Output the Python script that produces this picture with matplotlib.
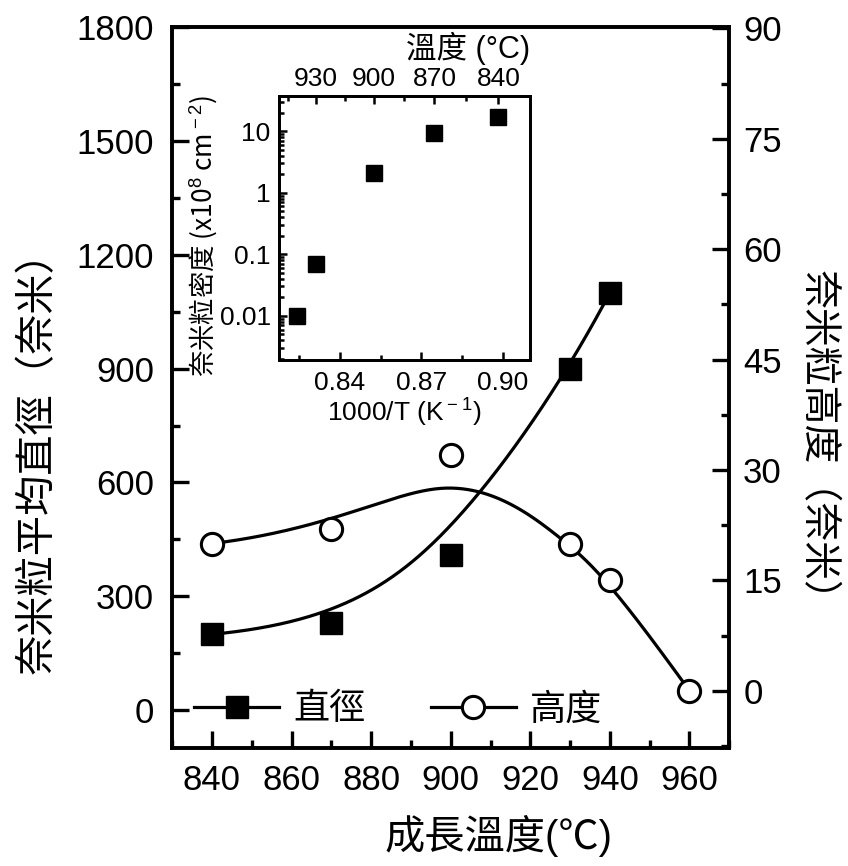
import numpy as np
import matplotlib
matplotlib.use("Agg")
import matplotlib.pyplot as plt
from matplotlib.ticker import MultipleLocator, FixedLocator, NullFormatter, LogLocator
from matplotlib.lines import Line2D

plt.rcParams['font.family'] = ['Liberation Sans', 'Noto Sans CJK TC']
plt.rcParams['mathtext.fontset'] = 'custom'
plt.rcParams['mathtext.rm'] = 'Liberation Sans'

# ---------------- data ----------------
temp_d = [840, 870, 900, 930, 940]
diameter = [200, 230, 410, 900, 1100]
temp_h = [840, 870, 900, 930, 940, 960]
height = [20, 22, 32, 20, 15, 0]

inset_temp = [940, 930, 900, 870, 840]
inset_density = [0.01, 0.07, 2.1, 9.3, 17]
top_tick_temps = [930, 900, 870, 840]
top_minor_temps = [945, 915, 885, 855, 825]

xticks = [840, 860, 880, 900, 920, 940, 960]
yticks_left = [0, 300, 600, 900, 1200, 1500, 1800]
yticks_right = [0, 15, 30, 45, 60, 75, 90]


def bspline(px, py, k=3, n=400):
    px = np.asarray(px, float); py = np.asarray(py, float)
    m = len(px)
    k = min(k, m - 1)
    knots = np.concatenate([np.zeros(k), np.linspace(0, 1, m - k + 1), np.ones(k)])
    t = np.linspace(0, 1, n)
    t[-1] -= 1e-10
    N = np.zeros((len(knots) - 1, n))
    for i in range(len(knots) - 1):
        N[i] = (t >= knots[i]) & (t < knots[i + 1])
    for p in range(1, k + 1):
        Nn = np.zeros((len(knots) - 1 - p, n))
        for i in range(len(knots) - 1 - p):
            a = knots[i + p] - knots[i]
            b = knots[i + p + 1] - knots[i + 1]
            term = 0
            if a > 0:
                term = term + (t - knots[i]) / a * N[i]
            if b > 0:
                term = term + (knots[i + p + 1] - t) / b * N[i + 1]
            Nn[i] = term
        N = Nn
    return N.T @ px, N.T @ py


LW = 2.3
MS = 16
fig = plt.figure(figsize=(8.48, 8.66), dpi=100)
ax = fig.add_axes([0.203, 0.136, 0.657, 0.833])
ax2 = ax.twinx()

bx, by = bspline(temp_d, diameter)
ax.plot(bx, by, color='black', lw=LW, zorder=2)
ax.plot(temp_d, diameter, ls='none', marker='s', ms=MS, color='black', zorder=3)
hx, hy = bspline(temp_h, height)
ax2.plot(hx, hy, color='black', lw=LW, zorder=2)
ax2.plot(temp_h, height, ls='none', marker='o', ms=MS, mfc='white', mec='black', mew=2.2, zorder=3)

ax.set_xlim(830, 970)
ax.set_ylim(-100, 1800)
ax2.set_ylim(-7.8, 90.2)
ax.set_xticks(xticks)
ax.set_yticks(yticks_left)
ax2.set_yticks(yticks_right)
ax.xaxis.set_minor_locator(MultipleLocator(10))
ax.yaxis.set_minor_locator(MultipleLocator(150))
ax2.yaxis.set_minor_locator(MultipleLocator(7.5))

for a in (ax, ax2):
    for s in a.spines.values():
        s.set_linewidth(2.6)
ax.tick_params(which='both', direction='in', width=2.4, top=False, right=False, labelsize=25)
ax.tick_params(which='major', length=12)
ax.tick_params(which='minor', length=6)
ax.tick_params(axis='x', pad=11)
ax.tick_params(axis='y', pad=13)
ax2.tick_params(which='both', direction='in', width=2.4, labelsize=25, pad=10)
ax2.tick_params(which='major', length=12)
ax2.tick_params(which='minor', length=6)

ax.set_xlabel('成長溫度(℃)', fontsize=29)
ax.xaxis.set_label_coords(0.585, -0.121)
ax.xaxis.label.set_va('center')
ax.set_ylabel('奈米粒平均直徑（奈米）', fontsize=29)
ax.yaxis.set_label_coords(-0.242, 0.41)
ax.yaxis.label.set_va('center')
ax2.set_ylabel('奈米粒高度（奈米）', fontsize=28, rotation=270)
ax2.yaxis.set_label_coords(1.158, 0.42)
ax2.yaxis.label.set_va('center')

# legend
h1 = Line2D([], [], color='black', lw=LW, marker='s', ms=MS)
h2 = Line2D([], [], color='black', lw=LW, marker='o', ms=MS, mfc='white', mec='black', mew=2.2)
leg = ax.legend([h1, h2], ['直徑', '高度'], loc='center left', bbox_to_anchor=(0.04, 0.053),
                ncol=2, frameon=False, fontsize=26, handlelength=2.35, columnspacing=1.8,
                handletextpad=0.4, borderpad=0, borderaxespad=0)

# ---------------- inset ----------------
axi = fig.add_axes([0.329, 0.584, 0.296, 0.305])
inv_x = [1000.0 / (t + 273.15) for t in inset_temp]
axi.plot(inv_x, inset_density, ls='none', marker='s', ms=11, color='black')
axi.set_yscale('log')
axi.set_xlim(0.8175, 0.910)
axi.set_ylim(0.0019, 37)
axi.set_xticks([0.84, 0.87, 0.90])
axi.set_xticklabels(['0.84', '0.87', '0.90'])
axi.xaxis.set_minor_locator(MultipleLocator(0.015))
axi.set_yticks([0.01, 0.1, 1, 10])
axi.set_yticklabels(['0.01', '0.1', '1', '10'])
axi.yaxis.set_minor_locator(LogLocator(base=10, subs=np.arange(2, 10), numticks=20))
axi.yaxis.set_minor_formatter(NullFormatter())
for s in axi.spines.values():
    s.set_linewidth(2.0)
axi.tick_params(which='both', direction='in', width=1.8, top=False, right=False, labelsize=19)
axi.tick_params(which='major', length=6)
axi.tick_params(which='minor', length=3.5)
axi.tick_params(axis='x', pad=8)
axi.tick_params(axis='y', pad=6)
axi.set_xlabel('1000/T (K$^{\\rm -1}$)', fontsize=19, labelpad=0)
axi.set_ylabel('奈米粒密度 (x10$^{\\rm 8}$ cm$^{\\rm -2}$)', fontsize=19,
               family=['Noto Sans CJK TC'])
axi.yaxis.set_label_coords(-0.30, 0.47)
axi.yaxis.label.set_va('center')

axt = axi.twiny()
axt.set_xlim(axi.get_xlim())
axt.xaxis.set_major_locator(FixedLocator([1000.0 / (t + 273.15) for t in top_tick_temps]))
axt.xaxis.set_minor_locator(FixedLocator([1000.0 / (t + 273.15) for t in top_minor_temps]))
axt.set_xticklabels([str(t) for t in top_tick_temps])
axt.tick_params(which='both', direction='in', width=1.8, labelsize=19, pad=4)
axt.tick_params(which='major', length=6)
axt.tick_params(which='minor', length=3.5)
axt.set_xlabel('溫度 (°C)', fontsize=22)
axt.xaxis.set_label_coords(0.753, 1.18)
axt.xaxis.label.set_va('center')
for s in axt.spines.values():
    s.set_linewidth(2.0)

fig.savefig('out.png', dpi=100)
